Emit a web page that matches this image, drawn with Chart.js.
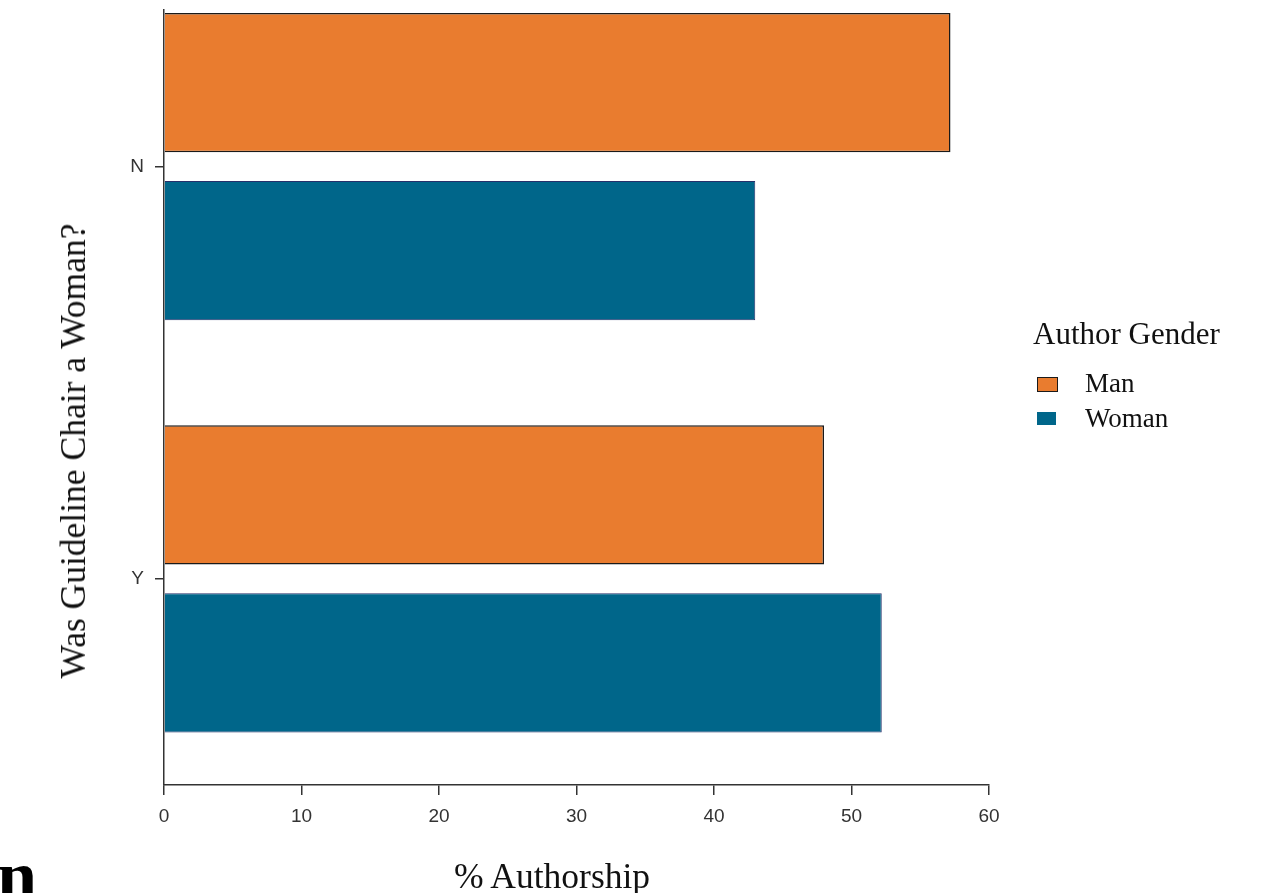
<!DOCTYPE html>
<html>
<head>
<meta charset="utf-8">
<script src="https://cdn.jsdelivr.net/npm/chart.js@4/dist/chart.umd.min.js"></script>
<style>
  html, body { margin: 0; padding: 0; background: #fff; overflow: hidden; }
  #wrap { position: relative; width: 1279px; height: 893px; }
  #grafico { position: absolute; left: 0; top: 0; }
  .serif { font-family: "Liberation Serif", "Times New Roman", serif; color: #111; position: absolute; white-space: nowrap; }
  #yTitle { font-size: 35.5px; left: 73px; top: 451px; transform: translate(-50%, -50%) rotate(-90deg); }
  #xTitle { font-size: 35.5px; left: 552px; top: 876px; transform: translate(-50%, -50%); }
  #legend { left: 1033px; top: 314px; }
  #legend .titulo { font-size: 31px; line-height: 40px; margin-bottom: 12px; }
  #legend .item { font-size: 27px; line-height: 35px; position: relative; padding-left: 52px; }
  #legend .caja { position: absolute; left: 4px; top: 11px; width: 19px; height: 13px; }
  #frag { position: absolute; left: -3px; top: 840px; font: bold 72px/72px "Liberation Serif", serif; color: #000; }
</style>
</head>
<body>
<div id="wrap">
  <canvas id="grafico" width="1279" height="893"></canvas>
  <div id="yTitle" class="serif">Was Guideline Chair a Woman?</div>
  <div id="xTitle" class="serif">% Authorship</div>
  <div id="legend" class="serif"></div>
  <div id="frag">n</div>
</div>
<script>
// datos
const categorias = ["N", "Y"];
const valoresHombre = [57.2, 48.0];
const valoresMujer = [43.0, 52.2];
const ticksX = [0, 10, 20, 30, 40, 50, 60];

const colorHombre = "#E97C2F";
const colorMujer = "#00668A";

function puntos(valores) {
  return categorias.map(function(c, i) {
    return { x: valores[i], y: i };
  });
}

const ctx = document.querySelector("#grafico");
const grafico = new Chart(ctx, {
  type: "bar",
  data: {
    datasets: [{
      label: "Man",
      data: puntos(valoresHombre),
      backgroundColor: colorHombre,
      borderColor: "#1a1a1a",
      borderWidth: 1.5
    }, {
      label: "Woman",
      data: puntos(valoresMujer),
      backgroundColor: colorMujer,
      borderColor: "#26306a",
      borderWidth: 1
    }]
  },
  options: {
    indexAxis: "y",
    responsive: false,
    animation: false,
    categoryPercentage: 0.815,
    barPercentage: 0.83,
    layout: { padding: { top: 10, right: 290, left: 0, bottom: 0 } },
    plugins: {
      legend: { display: false },
      tooltip: { enabled: false }
    },
    scales: {
      y: {
        type: "linear",
        reverse: true,
        offset: false,
        min: -0.38,
        max: 1.5,
        afterBuildTicks: function(s) {
          s.ticks = categorias.map(function(c, i) { return { value: i }; });
        },
        afterFit: function(s) {
          s.width = 164;
          s.paddingTop = 0;
          s.paddingBottom = 0;
        },
        ticks: {
          callback: function(v) { return categorias[v]; },
          font: { family: "Liberation Sans", size: 19 },
          color: "#333",
          padding: 11
        },
        grid: { offset: false, drawOnChartArea: false, tickLength: 9, color: "#333", lineWidth: 1.5 },
        border: { color: "#333", width: 1.5 }
      },
      x: {
        type: "linear",
        min: 0,
        max: 60,
        afterBuildTicks: function(s) {
          s.ticks = ticksX.map(function(v) { return { value: v }; });
        },
        afterFit: function(s) { s.height = 108; },
        ticks: {
          font: { family: "Liberation Sans", size: 19 },
          color: "#333",
          padding: 10
        },
        grid: { drawOnChartArea: false, tickLength: 10, color: "#333", lineWidth: 1.5 },
        border: { color: "#333", width: 1.5 }
      }
    }
  }
});

// leyenda
const leyenda = document.querySelector("#legend");
leyenda.innerHTML = '<div class="titulo">Author Gender</div>';
grafico.data.datasets.forEach(function(ds) {
  const borde = ds.label === "Man" ? "1.5px solid #1a1a1a" : "none";
  leyenda.innerHTML += `<div class="item"><span class="caja" style="background:${ds.backgroundColor};border:${borde}"></span>${ds.label}</div>`;
});
</script>
</body>
</html>
